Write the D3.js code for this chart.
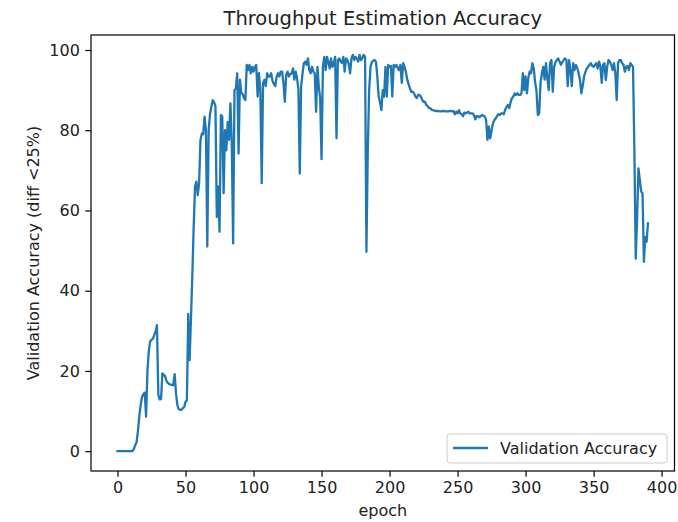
<!DOCTYPE html>
<html>
<head>
<meta charset="utf-8">
<script src="https://cdn.jsdelivr.net/npm/d3@7"></script>
<style>
  body { margin: 0; background: #fff; }
  svg { font-family: "DejaVu Sans", sans-serif; }
</style>
</head>
<body>
<script>
var title = "Throughput Estimation Accuracy",
    xLabel = "epoch",
    yLabel = "Validation Accuracy (diff <25%)",
    seriesName = "Validation Accuracy";

var xTicks = [0, 50, 100, 150, 200, 250, 300, 350, 400],
    yTicks = [0, 20, 40, 60, 80, 100];

// validation accuracy per epoch, 0..390
var accuracy = [
  0, 0, 0, 0, 0, 0, 0, 0, 0, 0,
  0, 0, 0.5, 1.5, 2.2, 5, 8.6, 11.5, 13.5, 14.2,
  14.6, 8.6, 20, 25, 27.3, 27.8, 28, 29, 29.8, 31.4,
  14, 12.9, 13, 19.4, 19, 18.7, 17.5, 17, 16.7, 16.6,
  16.5, 16.5, 19.2, 14.4, 11.5, 10.5, 10.3, 10.3, 10.7, 11,
  12.3, 12.7, 34.2, 22.7, 33, 44, 56, 66, 67.2, 63.8,
  67, 77.6, 79.2, 79, 83.4, 80, 51, 80, 84, 85.9,
  87.5, 87, 86, 58.4, 66, 54.7, 83.8, 83.4, 64.3, 80,
  75, 82.1, 77.6, 86.7, 77, 51.8, 90, 90.4, 94.2, 74.2,
  92.6, 89.3, 89, 88, 87.5, 96.3, 95, 96.3, 94.2, 95.8,
  94.6, 95.8, 96.3, 88.4, 94.2, 90, 66.8, 91.8, 92.6, 91,
  94.2, 93.4, 93.4, 94.2, 92.2, 91.5, 91, 93.4, 94.2, 93.4,
  94.6, 94.6, 91.8, 87.1, 93.8, 94.6, 93.4, 94, 94.2, 95.4,
  92.6, 94.6, 93, 90.2, 69.2, 91, 94, 96.7, 97.1, 96.3,
  97.9, 95, 94.2, 95.8, 94.6, 94.2, 84.6, 95.8, 90.8, 88,
  72.8, 95.8, 98.3, 95, 98.3, 97, 95.4, 97.9, 95.8, 96.5,
  98.3, 78, 97.5, 97.9, 97.1, 96.8, 98.3, 94.6, 97.9, 97.5,
  96.5, 94.2, 97.9, 98.8, 97.5, 98.3, 97.8, 97.1, 98.8, 97.5,
  98, 98.8, 98.3, 49.7, 75, 90, 95.8, 97, 97.3, 97.5,
  97.1, 93.4, 88.4, 87, 85, 90, 88.4, 95.8, 88.4, 96.3,
  95.8, 96, 88.4, 96.3, 95.8, 96.3, 95.5, 95, 96.3, 91.8,
  96.7, 95.8, 94.6, 92.6, 91.5, 90.4, 89.6, 89.6, 89.2, 88.4,
  88, 88.8, 88.8, 88.4, 87.6, 87.1, 87.1, 86.3, 86, 85.5,
  85.5, 85.1, 85, 84.9, 84.8, 84.8, 84.8, 84.7, 84.7, 84.8,
  84.8, 84.7, 84.7, 84.7, 84.8, 84.8, 84.7, 84.8, 84, 84.6,
  84.2, 85, 84.2, 84, 83.5, 84.4, 84.2, 84.4, 84.6, 84.2,
  84.2, 84.2, 83.8, 82.7, 83.5, 83.5, 83.2, 83.5, 83.8, 83.6,
  83.4, 82.5, 77.6, 80.9, 78, 80, 81.7, 82.5, 82.9, 83.5,
  84, 83.8, 84.2, 84.2, 84, 85.1, 85.8, 86.3, 85.5, 87,
  88, 88.4, 89.2, 88.8, 89.2, 88.8, 88.8, 89.2, 94.2, 90,
  93.4, 89.2, 93, 94.6, 94.2, 96.7, 95.4, 92, 90, 83.8,
  84.2, 91.8, 94.2, 95.8, 92.6, 96.7, 93, 90, 96.7, 97.5,
  89.6, 95.8, 97, 97.5, 97.9, 97.1, 96.3, 97, 97.5, 97.9,
  97.5, 91, 97.5, 95, 91, 96.7, 95, 96.3, 95.5, 94.2,
  92.6, 89.2, 91, 93.4, 94.5, 95.4, 95.8, 96.3, 96.7, 96,
  95.8, 96.3, 96.7, 95.4, 97.1, 96, 91.8, 96.3, 96.7, 92.5,
  95.8, 97.5, 97.1, 96.3, 95, 96.7, 94.2, 87.5, 96.7, 97.5,
  97.5, 96.7, 96.3, 94.6, 95.8, 96, 95, 96.7, 96.3, 95.8,
  75, 48, 58, 70.5, 67.6, 64.7, 64.3, 47.2, 53.4, 52.2,
  56.8
];

var width = 678,
    height = 522,
    margin = {top: 35, right: 3.5, bottom: 51, left: 91};

var svg = d3.select("body").append("svg")
    .attr("width", width)
    .attr("height", height);

var g = svg.append("g")
    .attr("transform", "translate(" + margin.left + "," + margin.top + ")");

var w = width - margin.left - margin.right,
    h = height - margin.top - margin.bottom;

// matplotlib style 5% padding
var n = accuracy.length - 1,
    yMin = d3.min(accuracy), yMax = d3.max(accuracy),
    xPad = n * 0.05, yPad = (yMax - yMin) * 0.05;

var x = d3.scaleLinear().domain([-xPad, n + xPad]).range([0, w]);
var y = d3.scaleLinear().domain([yMin - yPad, yMax + yPad]).range([h, 0]);

var xAxis = g.append("g")
    .attr("transform", "translate(0," + h + ")")
    .call(d3.axisBottom(x).tickValues(xTicks).tickSize(5.7).tickPadding(5));

var yAxis = g.append("g")
    .call(d3.axisLeft(y).tickValues(yTicks).tickSize(5.7).tickPadding(5.5));

[xAxis, yAxis].forEach(function(a) {
  a.select(".domain").remove();
  a.selectAll("line").attr("stroke", "#000").attr("stroke-width", 1.2);
  a.selectAll("text")
    .attr("fill", "#222")
    .style("font-family", "DejaVu Sans")
    .style("font-size", "16px");
});

var line = d3.line()
    .x(function(d, i) { return x(i); })
    .y(function(d) { return y(d); });

g.append("path")
    .datum(accuracy)
    .attr("fill", "none")
    .attr("stroke", "#1f77b4")
    .attr("stroke-width", 2.3)
    .attr("stroke-linejoin", "round")
    .attr("stroke-linecap", "square")
    .attr("d", line);

// frame
g.append("rect")
    .attr("width", w)
    .attr("height", h)
    .attr("fill", "none")
    .attr("stroke", "#000")
    .attr("stroke-width", 1.2);

svg.append("text")
    .attr("x", margin.left + w / 2)
    .attr("y", 25)
    .attr("text-anchor", "middle")
    .style("font-size", "19.5px")
    .attr("fill", "#222")
    .text(title);

svg.append("text")
    .attr("x", margin.left + w / 2)
    .attr("y", 516)
    .attr("text-anchor", "middle")
    .style("font-size", "16px")
    .attr("fill", "#222")
    .text(xLabel);

svg.append("text")
    .attr("transform", "translate(39," + (margin.top + h / 2) + ") rotate(-90)")
    .attr("text-anchor", "middle")
    .style("font-size", "16px")
    .attr("fill", "#222")
    .text(yLabel);

// legend
var legend = g.append("g")
    .attr("transform", "translate(" + (w - 227.5) + "," + (h - 37) + ")");

legend.append("rect")
    .attr("width", 220)
    .attr("height", 29)
    .attr("rx", 3)
    .attr("fill", "#fff")
    .attr("fill-opacity", 0.8)
    .attr("stroke", "#ccc");

legend.append("line")
    .attr("x1", 6).attr("x2", 41)
    .attr("y1", 14).attr("y2", 14)
    .attr("stroke", "#1f77b4")
    .attr("stroke-width", 2.3);

legend.append("text")
    .attr("x", 53)
    .attr("y", 20)
    .style("font-size", "16px")
    .attr("fill", "#222")
    .text(seriesName);
</script>
</body>
</html>
